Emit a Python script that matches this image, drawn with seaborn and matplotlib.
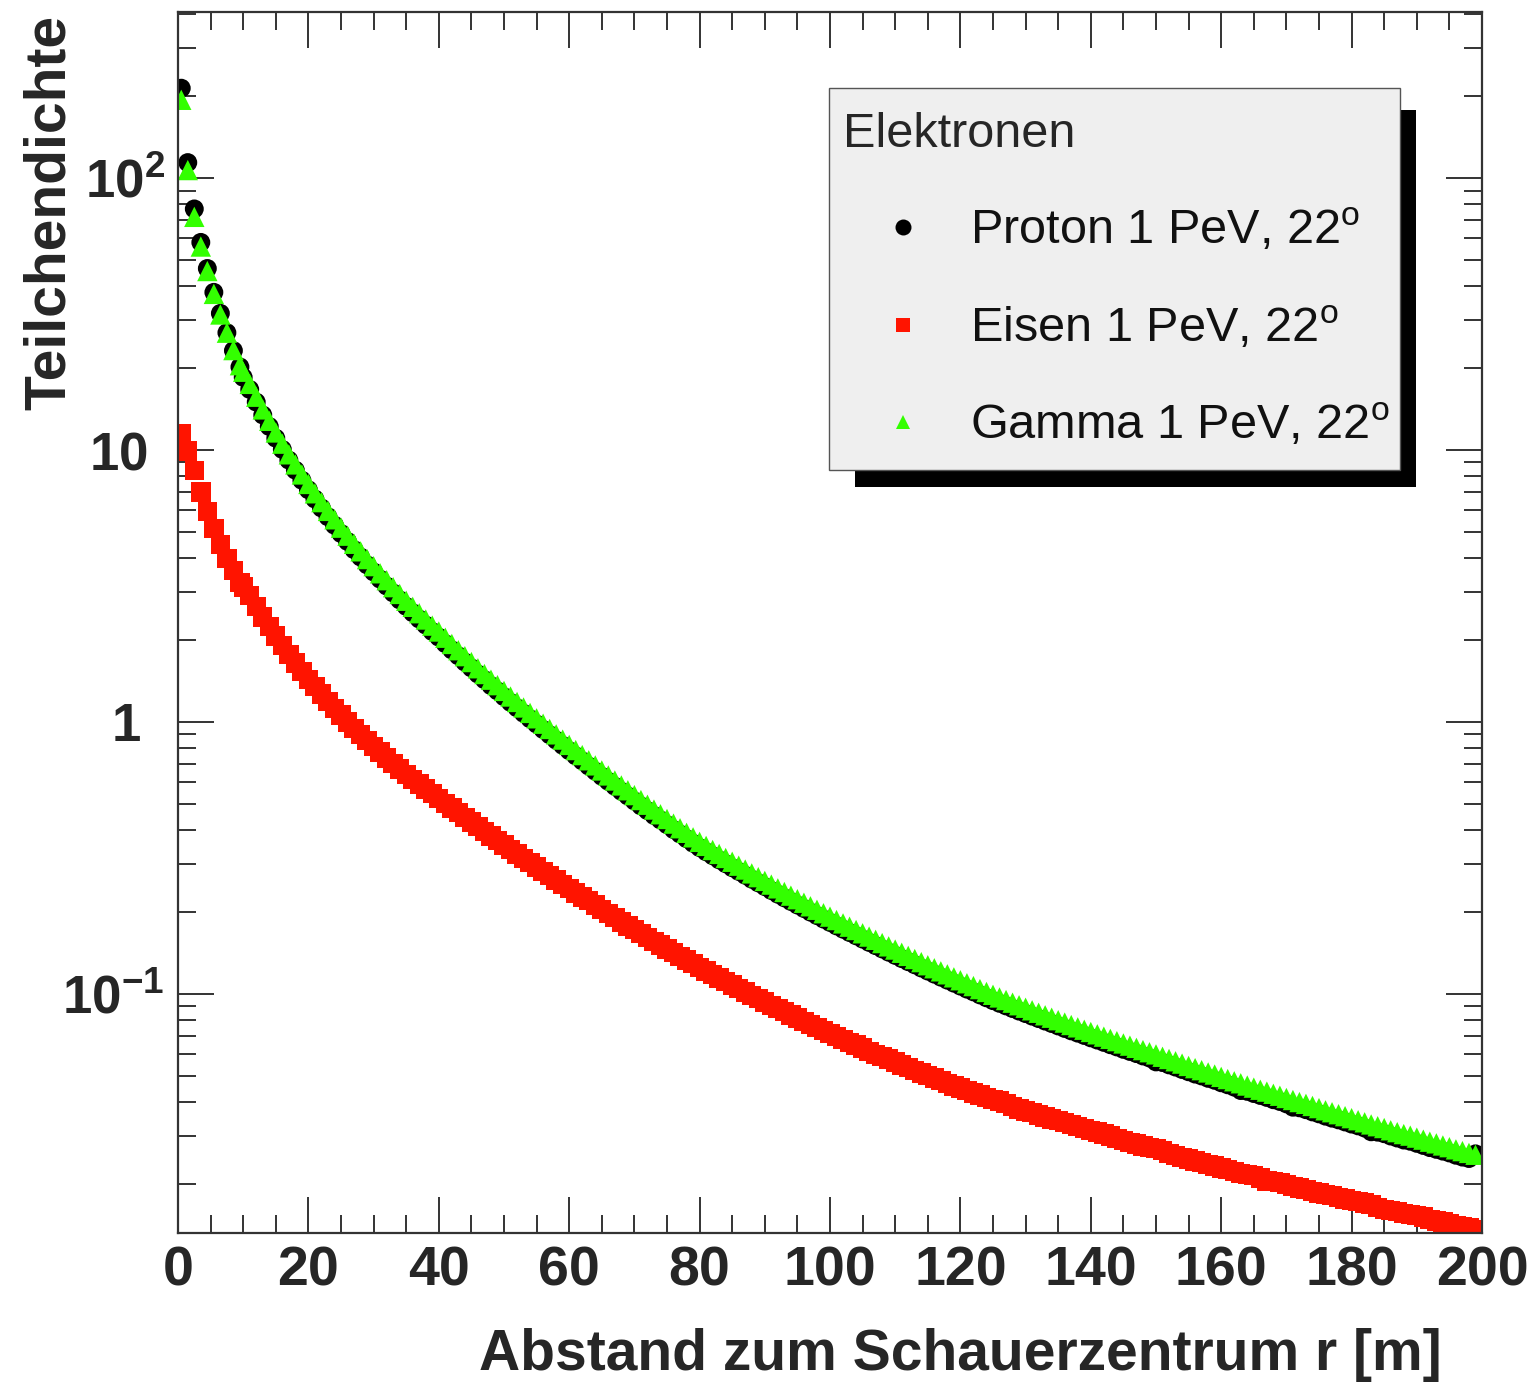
import numpy as np
import pandas as pd
import matplotlib
matplotlib.use("Agg")
import matplotlib.pyplot as plt
import seaborn as sns
from matplotlib.lines import Line2D
from matplotlib.patches import Rectangle
from matplotlib.ticker import FixedLocator, LogLocator, MultipleLocator, NullFormatter

sns.set_theme(style="ticks")
plt.rcParams['font.family'] = ['Liberation Sans', 'DejaVu Sans']
plt.rcParams['mathtext.fontset'] = 'custom'
plt.rcParams['mathtext.rm'] = 'Liberation Sans'
plt.rcParams['mathtext.bf'] = 'Liberation Sans:bold'
plt.rcParams['mathtext.it'] = 'Liberation Sans:italic'

# ---------------- data ----------------
# bin centres: 0.5 ... 9.5, then every metre 10 ... 199
r = np.concatenate([np.arange(0.5, 10.0, 1.0), np.arange(10, 200)])

proton = [214, 114, 77, 58, 46.5, 38, 31.8, 27, 23.2, 20.2,
          18.5, 16.7, 15.0, 13.45, 12.2, 11.05, 10.05, 9.18, 8.43, 7.74,
          7.14, 6.6, 6.12, 5.68, 5.29, 4.93, 4.61, 4.3, 4.04, 3.78,
          3.56, 3.35, 3.16, 2.98, 2.81, 2.66, 2.52, 2.39, 2.27, 2.15,
          2.05, 1.94, 1.84, 1.75, 1.66, 1.58, 1.50, 1.43, 1.36, 1.30,
          1.238, 1.18, 1.127, 1.076, 1.027, 0.982, 0.938, 0.897, 0.857, 0.82,
          0.784, 0.75, 0.719, 0.688, 0.659, 0.631, 0.605, 0.58, 0.556, 0.534,
          0.512, 0.491, 0.472, 0.453, 0.436, 0.419, 0.402, 0.387, 0.372, 0.358,
          0.345, 0.333, 0.322, 0.311, 0.301, 0.291, 0.282, 0.273, 0.264, 0.256,
          0.248, 0.24, 0.2325, 0.2255, 0.2187, 0.2122, 0.206, 0.1998, 0.194, 0.1884,
          0.1831, 0.1778, 0.1729, 0.1681, 0.1635, 0.159, 0.1546, 0.1504, 0.1463, 0.1423,
          0.1385, 0.1348, 0.1313, 0.1279, 0.1245, 0.1213, 0.1182, 0.1152, 0.1123, 0.1095,
          0.1068, 0.1041, 0.1017, 0.0991, 0.0967, 0.0944, 0.0923, 0.0903, 0.0883, 0.0864,
          0.0846, 0.0828, 0.0811, 0.0794, 0.0778, 0.0762, 0.0746, 0.0731, 0.0717, 0.0703,
          0.0689, 0.0676, 0.0663, 0.065, 0.0638, 0.0625, 0.0614, 0.0603, 0.0591, 0.0581,
          0.0562, 0.0559, 0.0548, 0.0538, 0.0527, 0.0517, 0.0507, 0.0499, 0.0489, 0.0481,
          0.0471, 0.0463, 0.0454, 0.0441, 0.0438, 0.043, 0.0423, 0.0416, 0.0408, 0.0402,
          0.0394, 0.0383, 0.0381, 0.0375, 0.0368, 0.0362, 0.0355, 0.0349, 0.0344, 0.0338,
          0.0332, 0.0327, 0.0321, 0.0311, 0.031, 0.0306, 0.03, 0.0295, 0.029, 0.0287,
          0.0282, 0.0277, 0.0272, 0.0268, 0.0264, 0.026, 0.0255, 0.0251, 0.0248, 0.0258]

eisen = [11.5, 9.9, 8.4, 7.0, 5.95, 5.15, 4.5, 4.0, 3.6, 3.25,
         3.13, 2.92, 2.66, 2.43, 2.24, 2.07, 1.91, 1.77, 1.645, 1.53,
         1.435, 1.35, 1.265, 1.19, 1.122, 1.06, 1.0, 0.946, 0.898, 0.854,
         0.812, 0.774, 0.737, 0.703, 0.671, 0.641, 0.615, 0.591, 0.567, 0.545,
         0.523, 0.502, 0.482, 0.464, 0.445, 0.428, 0.412, 0.396, 0.381, 0.367,
         0.353, 0.340, 0.327, 0.315, 0.304, 0.293, 0.282, 0.272, 0.262, 0.253,
         0.244, 0.235, 0.227, 0.220, 0.212, 0.2045, 0.1974, 0.1906, 0.184, 0.1778,
         0.1721, 0.1667, 0.1611, 0.1558, 0.151, 0.1463, 0.1417, 0.1374, 0.1332, 0.1291,
         0.1252, 0.1215, 0.1178, 0.1143, 0.111, 0.1077, 0.1045, 0.1015, 0.0987, 0.0959,
         0.0932, 0.0906, 0.0883, 0.086, 0.0837, 0.0814, 0.0793, 0.0773, 0.0754, 0.0735,
         0.0716, 0.0697, 0.068, 0.0664, 0.0648, 0.0632, 0.0615, 0.0599, 0.0588, 0.0576,
         0.0562, 0.0548, 0.0535, 0.0523, 0.0511, 0.05, 0.049, 0.0479, 0.0469, 0.0459,
         0.045, 0.0441, 0.0432, 0.0424, 0.0416, 0.0408, 0.0403, 0.0396, 0.0386, 0.0377,
         0.0371, 0.0366, 0.0359, 0.0353, 0.0347, 0.0342, 0.0336, 0.033, 0.0325, 0.032,
         0.0315, 0.031, 0.0305, 0.030, 0.0294, 0.0289, 0.0284, 0.028, 0.0276, 0.0272,
         0.027, 0.0266, 0.0259, 0.0254, 0.025, 0.0247, 0.0243, 0.024, 0.0236, 0.0233,
         0.0229, 0.0226, 0.0222, 0.0219, 0.0217, 0.0215, 0.021, 0.0205, 0.0204, 0.0202,
         0.0199, 0.0196, 0.0193, 0.0191, 0.0188, 0.0185, 0.0183, 0.0181, 0.0178, 0.0176,
         0.0174, 0.0172, 0.017, 0.0168, 0.0164, 0.0161, 0.016, 0.0158, 0.0156, 0.0154,
         0.0153, 0.0151, 0.0148, 0.0146, 0.0145, 0.0143, 0.0141, 0.0139, 0.0138, 0.0136]

gamma = [194, 107, 72, 56, 45.5, 37.5, 31.5, 27, 23.3, 20.5,
         19.4, 17.5, 15.7, 14.1, 12.8, 11.6, 10.55, 9.64, 8.85, 8.13,
         7.5, 6.93, 6.43, 5.97, 5.56, 5.18, 4.84, 4.52, 4.24, 3.97,
         3.74, 3.52, 3.32, 3.13, 2.955, 2.79, 2.65, 2.51, 2.38, 2.26,
         2.15, 2.04, 1.935, 1.835, 1.745, 1.66, 1.575, 1.50, 1.43, 1.365,
         1.30, 1.240, 1.184, 1.130, 1.079, 1.031, 0.985, 0.942, 0.900, 0.861,
         0.823, 0.788, 0.755, 0.7226, 0.692, 0.663, 0.6355, 0.609, 0.584, 0.5606,
         0.538, 0.516, 0.496, 0.4762, 0.4575, 0.4396, 0.4227, 0.4064, 0.391, 0.3763,
         0.3622, 0.350, 0.338, 0.327, 0.316, 0.306, 0.296, 0.2865, 0.2773, 0.2686,
         0.2602, 0.2522, 0.2443, 0.2369, 0.2297, 0.2229, 0.2163, 0.2099, 0.2038, 0.1979,
         0.1923, 0.1868, 0.1816, 0.1766, 0.1717, 0.1670, 0.1624, 0.158, 0.1537, 0.1495,
         0.1455, 0.1416, 0.1379, 0.1343, 0.1308, 0.1274, 0.1242, 0.121, 0.118, 0.115,
         0.1122, 0.1094, 0.1068, 0.1041, 0.1016, 0.0992, 0.0970, 0.0949, 0.0928, 0.0908,
         0.0889, 0.0870, 0.0852, 0.0834, 0.0817, 0.0800, 0.0784, 0.0768, 0.0753, 0.0738,
         0.0724, 0.0710, 0.0696, 0.0683, 0.0670, 0.0657, 0.0645, 0.0633, 0.0621, 0.0610,
         0.0599, 0.0587, 0.0576, 0.0565, 0.0554, 0.0543, 0.0533, 0.0524, 0.0514, 0.0505,
         0.0495, 0.0486, 0.0477, 0.0469, 0.046, 0.0452, 0.0444, 0.0437, 0.0429, 0.0422,
         0.0414, 0.0407, 0.04, 0.0394, 0.0387, 0.038, 0.0373, 0.0367, 0.0361, 0.0355,
         0.0349, 0.0343, 0.0337, 0.0331, 0.0326, 0.0321, 0.0315, 0.031, 0.0305, 0.0301,
         0.0296, 0.0291, 0.0286, 0.0282, 0.0277, 0.0273, 0.0268, 0.0264, 0.026, 0.0256]

series_names = [r"Proton 1 PeV, 22$^{\mathrm{o}}$", r"Eisen 1 PeV, 22$^{\mathrm{o}}$",
                r"Gamma 1 PeV, 22$^{\mathrm{o}}$"]
x_ticks = [0, 20, 40, 60, 80, 100, 120, 140, 160, 180, 200]
y_ticks = [0.1, 1, 10, 100]
y_ticklabels = [r"$\mathbf{10^{-1}}$", r"$\mathbf{1}$", r"$\mathbf{10}$", r"$\mathbf{10^{2}}$"]

colors = {"Proton": "#000000", "Eisen": "#ff1400", "Gamma": "#33ff00"}
markers = {"Proton": "o", "Eisen": "s", "Gamma": "^"}
sizes = {"Proton": 185, "Eisen": 195, "Gamma": 215}

df = pd.concat([
    pd.DataFrame({"r": r, "rho": proton, "series": "Proton"}),
    pd.DataFrame({"r": r, "rho": eisen, "series": "Eisen"}),
    pd.DataFrame({"r": r, "rho": gamma, "series": "Gamma"}),
], ignore_index=True)

# ---------------- figure ----------------
W, H = 1533, 1384
fig = plt.figure(figsize=(W / 100, H / 100), dpi=100)
fig.patch.set_facecolor("white")
ax = fig.add_axes([178 / W, 1 - 1233 / H, 1304 / W, 1221 / H])
ax.set_facecolor("white")

sns.scatterplot(data=df, x="r", y="rho", hue="series", style="series", size="series",
                hue_order=["Proton", "Eisen", "Gamma"], palette=colors, markers=markers,
                sizes=sizes, linewidth=0, legend=False, ax=ax)

ax.set_yscale("log")
ax.set_xlim(0, 200)
ax.set_ylim(0.0132, 408)

ax.set_xticks(x_ticks)
ax.set_xticklabels([str(t) for t in x_ticks], fontsize=40, fontweight="bold")
ax.xaxis.set_minor_locator(MultipleLocator(5))
ax.yaxis.set_major_locator(FixedLocator(y_ticks))
ax.set_yticklabels(y_ticklabels, fontsize=38)
ax.yaxis.set_minor_locator(LogLocator(base=10, subs=np.arange(2, 10)))
ax.yaxis.set_minor_formatter(NullFormatter())

ax.tick_params(which="both", direction="in", top=True, right=True, color="#333333")
ax.tick_params(which="major", length=26, width=1.4)
ax.tick_params(which="minor", length=13, width=1.4)
ax.tick_params(axis="x", which="major", pad=9)
ax.tick_params(axis="y", which="major", pad=10)
# ROOT places the plain "1" and "10" labels a little further left
for tick, pad in zip(ax.yaxis.get_major_ticks(), [10, 27, 22, 9]):
    tick.set_pad(pad)
for s in ax.spines.values():
    s.set_color("#333333")
    s.set_linewidth(1.6)

ax.set_xlabel("Abstand zum Schauerzentrum r [m]", fontsize=41, fontweight="bold", loc="right")
ax.xaxis.set_label_coords((1442 - 178) / 1304, -0.1)
ax.xaxis.label.set_va("center")
ax.set_ylabel("Teilchendichte", fontsize=41, fontweight="bold", loc="top")
ax.yaxis.set_label_coords((50 - 178) / 1304, 0.998)
ax.yaxis.label.set_va("center")

# ---------------- legend with ROOT style shadow box ----------------
fig.add_artist(Rectangle((855 / W, 1 - 487 / H), 561 / W, 377 / H, transform=fig.transFigure,
                         facecolor="black", edgecolor="none", zorder=2))
fig.add_artist(Rectangle((829 / W, 1 - 470 / H), 571 / W, 382 / H, transform=fig.transFigure,
                         facecolor="#efefef", edgecolor="#555555", linewidth=1.0, zorder=3))

handles = [
    Line2D([], [], linestyle="none", marker="o", color=colors["Proton"], markersize=11.5, markeredgewidth=0),
    Line2D([], [], linestyle="none", marker="s", color=colors["Eisen"], markersize=9.5, markeredgewidth=0),
    Line2D([], [], linestyle="none", marker="^", color=colors["Gamma"], markersize=10, markeredgewidth=0),
]
leg = fig.legend(handles, series_names, loc="upper left",
                 bbox_to_anchor=(843 / W, 1 - 112 / H), bbox_transform=fig.transFigure,
                 frameon=False, title="Elektronen", alignment="left",
                 fontsize=35, title_fontsize=35, borderpad=0, borderaxespad=0,
                 handlelength=2.47, handletextpad=0.14, labelspacing=1.05)
leg.set_zorder(5)
for t in leg.get_texts():
    t.set_color("#111111")

fig.savefig("out.png", dpi=100, facecolor="white")
